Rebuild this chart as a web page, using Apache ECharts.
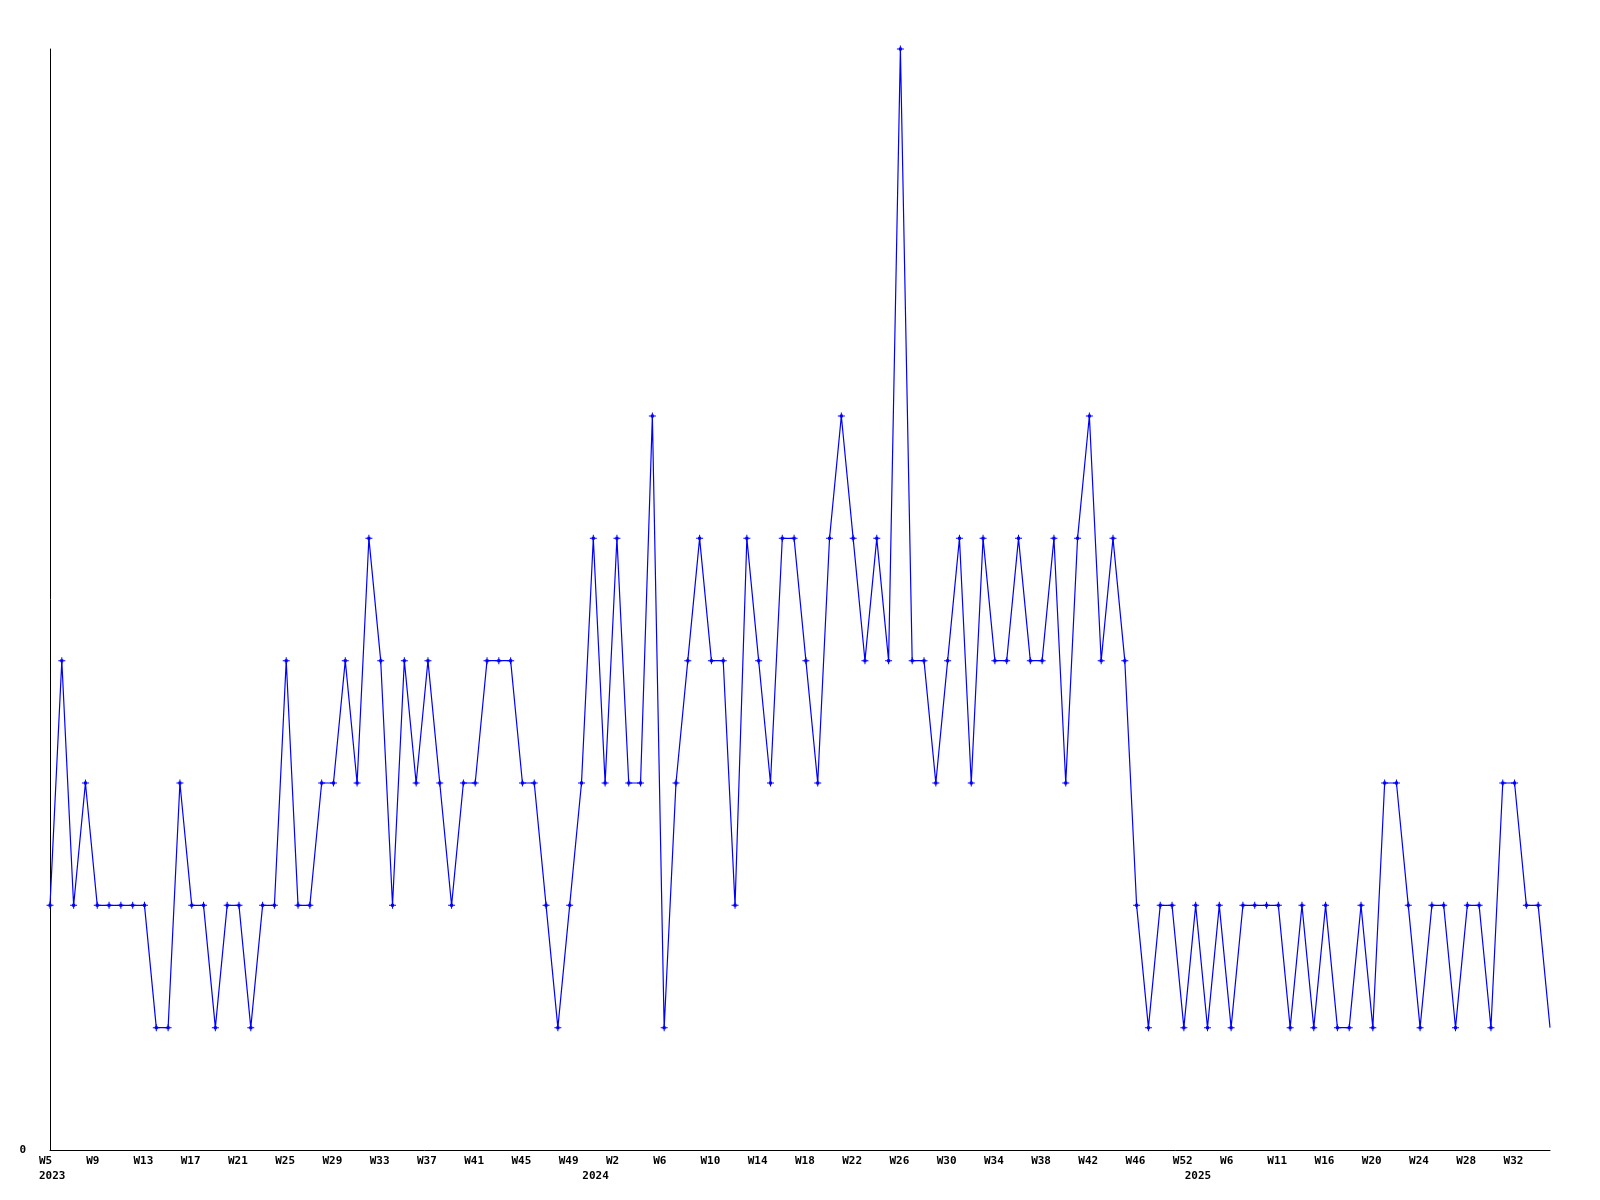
<!DOCTYPE html>
<html>
<head>
<meta charset="utf-8">
<script src="https://cdn.jsdelivr.net/npm/echarts@6/dist/echarts.min.js"></script>
<style>
html,body{margin:0;padding:0;background:#fff;}
#chart{width:1600px;height:1200px;}
</style>
</head>
<body>
<div id="chart"></div>
<script>
// Category labels (week of year) and the year each point belongs to
const weeks = [
  'W5','W6','W7','W8','W9','W10','W11','W12','W13','W14','W15','W16','W17','W18','W19','W20',
  'W21','W22','W23','W24','W25','W26','W27','W28','W29','W30','W31','W32','W33','W34','W35','W36',
  'W37','W38','W39','W40','W41','W42','W43','W44','W45','W46','W47','W48','W49','W51',
  'W0','W1','W2','W3','W4','W5','W6','W7','W8','W9','W10','W11','W12','W13','W14','W15',
  'W16','W17','W18','W19','W20','W21','W22','W23','W24','W25','W26','W27','W28','W29','W30','W31',
  'W32','W33','W34','W35','W36','W37','W38','W39','W40','W41','W42','W43','W44','W45','W46',
  'W48','W50','W51','W52',
  'W0','W2','W4','W6','W7','W9','W10','W11','W12','W13','W15','W16','W17','W18','W19','W20',
  'W21','W22','W23','W24','W25','W26','W27','W28','W29','W30','W31','W32','W33','W34','W35'
];
const years = [
  '2023','2023','2023','2023','2023','2023','2023','2023','2023','2023','2023','2023','2023','2023','2023','2023',
  '2023','2023','2023','2023','2023','2023','2023','2023','2023','2023','2023','2023','2023','2023','2023','2023',
  '2023','2023','2023','2023','2023','2023','2023','2023','2023','2023','2023','2023','2023','2023',
  '2024','2024','2024','2024','2024','2024','2024','2024','2024','2024','2024','2024','2024','2024','2024','2024',
  '2024','2024','2024','2024','2024','2024','2024','2024','2024','2024','2024','2024','2024','2024','2024','2024',
  '2024','2024','2024','2024','2024','2024','2024','2024','2024','2024','2024','2024','2024','2024','2024',
  '2024','2024','2024','2024',
  '2025','2025','2025','2025','2025','2025','2025','2025','2025','2025','2025','2025','2025','2025','2025','2025',
  '2025','2025','2025','2025','2025','2025','2025','2025','2025','2025','2025','2025','2025','2025','2025'
];
// Weekly counts
const counts = [
  2,4,2,3,2,2,2,2,2,1, 1,3,2,2,1,2,2,1,2,2, 4,2,2,3,3,4,3,5,4,2, 4,3,4,3,2,3,3,4,4,4, 3,3,2,1,
  2,3,5,3,5,3,3,6,1,3, 4,5,4,4,2,5,4,3,5,5, 4,3,5,6,5,4,5,4,9,4, 4,3,4,5,3,5,4,4,5,4, 4,5,3,5,6,4,
  5,4,2,1,2,2,1,2,1,2, 1,2,2,2,2,1,2,1,2,1, 1,2,1,3,3,2,1,2,2,1, 2,2,1,3,3,2,2,1
];
const yMax = 9;

const chart = echarts.init(document.getElementById('chart'), null, {renderer: 'canvas'});
const FONT = 'DejaVu Sans Mono';
const plus = 'path://M3,0H4V2H5V3H7V4H5V5H4V7H3V5H2V4H0V3H2V2H3Z';

const seriesData = counts.map((v, i) => i === counts.length - 1 ? {value: v, symbol: 'none'} : v);

const labelBase = {
  align: 'center',
  color: '#000',
  fontFamily: FONT,
  fontWeight: 'bold',
  fontSize: 11,
  formatter: v => '{a|' + v + '}',
  rich: {a: {width: 22, align: 'left', color: '#000', fontFamily: FONT, fontWeight: 'bold', fontSize: 11}}
};

chart.setOption({
  animation: false,
  backgroundColor: '#ffffff',
  grid: {left: 50, right: 50, top: 49, bottom: 50, containLabel: false},
  xAxis: [{
    type: 'category',
    data: weeks,
    boundaryGap: false,
    position: 'bottom',
    axisLine: {show: true, lineStyle: {color: '#000', width: 1}},
    axisTick: {show: false},
    splitLine: {show: false},
    axisLabel: Object.assign({}, labelBase, {interval: 3, margin: 6})
  }, {
    type: 'category',
    data: years,
    boundaryGap: false,
    position: 'bottom',
    axisLine: {show: false},
    axisTick: {show: false},
    splitLine: {show: false},
    axisLabel: Object.assign({}, labelBase, {
      interval: (idx) => idx === 0 || years[idx] !== years[idx - 1],
      margin: 21
    })
  }],
  yAxis: {
    type: 'value',
    min: 0,
    max: yMax,
    interval: yMax,
    axisLine: {show: true, lineStyle: {color: '#000', width: 1}},
    axisTick: {show: false},
    splitLine: {show: false},
    axisLabel: {
      showMaxLabel: false,
      margin: 24,
      color: '#000',
      fontFamily: FONT,
      fontWeight: 'bold',
      fontSize: 11
    }
  },
  series: [{
    type: 'line',
    xAxisIndex: 0,
    data: seriesData,
    symbol: plus,
    symbolSize: 7,
    showAllSymbol: true,
    lineStyle: {color: '#0000ff', width: 1.2},
    itemStyle: {color: '#0000ff'},
    emphasis: {disabled: true}
  }]
});
</script>
</body>
</html>
